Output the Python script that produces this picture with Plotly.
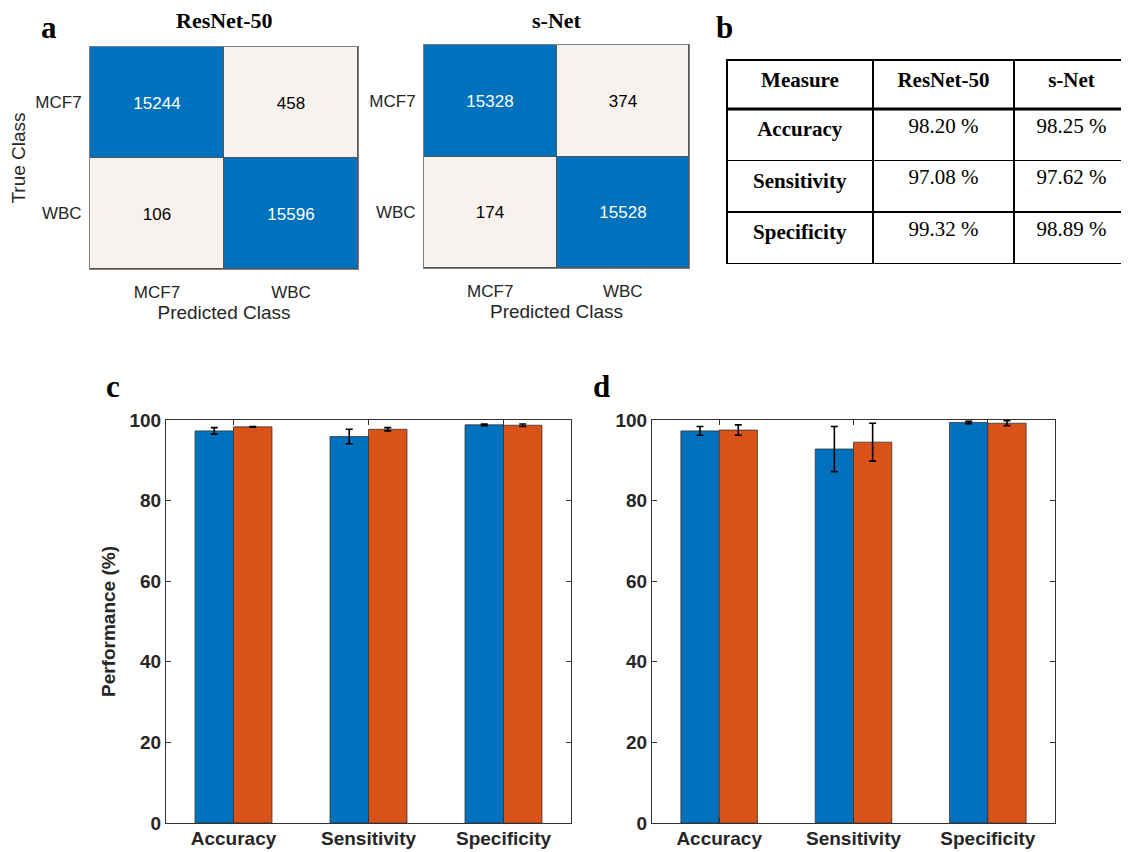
import plotly.graph_objects as go

# ---------------- data ----------------
classes = ["MCF7", "WBC"]
cm_resnet = [[15244, 458], [106, 15596]]
cm_snet = [[15328, 374], [174, 15528]]

measures = ["Accuracy", "Sensitivity", "Specificity"]
table_resnet = [98.20, 97.08, 99.32]
table_snet = [98.25, 97.62, 98.89]

c_resnet = [97.3, 95.9, 98.8]
c_resnet_err = [0.8, 1.8, 0.2]
c_snet = [98.3, 97.7, 98.7]
c_snet_err = [0.1, 0.4, 0.3]

d_resnet = [97.3, 92.8, 99.4]
d_resnet_err = [1.1, 5.6, 0.3]
d_snet = [97.5, 94.5, 99.2]
d_snet_err = [1.3, 4.7, 0.6]

yticks = [0, 20, 40, 60, 80, 100]

# ---------------- style ----------------
OFF = 8  # page body margin
W, H = 1129 - OFF, 852 - OFF
BLUE = "#0072BD"
ORANGE = "#D95319"
LIGHT = "#F8F2EE"
SANS = "Liberation Sans, Arial, sans-serif"
SERIF = "Liberation Serif, Times New Roman, serif"


def fx(p):
    return (p - OFF) / W


def fy(p):
    return 1 - (p - OFF) / H


def px_x(a, b):
    return [fx(a), fx(b)]


def px_y(top, bottom):
    return [fy(bottom), fy(top)]


fig = go.Figure()

cscale = [[0, LIGHT], [0.1, LIGHT], [0.9, BLUE], [1, BLUE]]

for i, cm in enumerate([cm_resnet, cm_snet]):
    ax = "" if i == 0 else "2"
    diag = [[v if r == c else None for c, v in enumerate(row)] for r, row in enumerate(cm)]
    offd = [[v if r != c else None for c, v in enumerate(row)] for r, row in enumerate(cm)]
    for zz, tcol in [(diag, "white"), (offd, "black")]:
        fig.add_trace(go.Heatmap(
            z=zz, x=classes, y=classes,
            zmin=0, zmax=16000, colorscale=cscale, showscale=False,
            xgap=1, ygap=1,
            texttemplate="%{z:.0f}", textfont=dict(family=SANS, size=17, color=tcol),
            hoverinfo="skip",
            xaxis="x" + ax, yaxis="y" + ax,
        ))

# bars
for j, (rv, re, sv, se) in enumerate([(c_resnet, c_resnet_err, c_snet, c_snet_err),
                                      (d_resnet, d_resnet_err, d_snet, d_snet_err)]):
    ax = str(3 + j)
    for vals, errs, col in [(rv, re, BLUE), (sv, se, ORANGE)]:
        fig.add_trace(go.Bar(
            x=measures, y=vals,
            marker=dict(color=col, line=dict(color="#333333", width=0.8)),
            error_y=dict(type="data", array=errs, color="black", thickness=1.6, width=3.5),
            showlegend=False, hoverinfo="skip",
            xaxis="x" + ax, yaxis="y" + ax,
        ))

# table
cell_vals = [
    ["<b>" + m + "</b>" for m in measures],
    [f"{v:.2f} %" for v in table_resnet],
    [f"{v:.2f} %" for v in table_snet],
]
fig.add_trace(go.Table(
    domain=dict(x=[fx(727), 1.0], y=px_y(60, 270)),
    columnwidth=[146, 141, 115],
    header=dict(
        values=["<b>Measure</b>", "<b>ResNet-50</b>", "<b>s-Net</b>"],
        height=49, align="center", fill_color="white",
        line=dict(color="black", width=1.5),
        font=dict(family=SERIF, size=21, color="black"),
    ),
    cells=dict(
        values=cell_vals, height=51.5, align="center", fill_color="white",
        line=dict(color="black", width=1.5),
        font=dict(family=SERIF, size=21, color="black"),
    ),
))

hm_axis_common = dict(showline=True, mirror=True, linecolor="#7f7f7f", linewidth=1,
                      ticks="", showgrid=False, zeroline=False, automargin=False,
                      tickfont=dict(family=SANS, size=17, color="#262626"))

layout = dict(
    width=W, height=H,
    margin=dict(l=0, r=0, t=0, b=0, autoexpand=False),
    paper_bgcolor="white", plot_bgcolor="white",
    barmode="group", bargap=0.43, bargroupgap=0,
    xaxis=dict(domain=px_x(90, 358), anchor="y", ticklabelstandoff=8,
               title=dict(text="Predicted Class", font=dict(family=SANS, size=19, color="#262626"), standoff=4),
               **hm_axis_common),
    yaxis=dict(domain=px_y(47, 269), anchor="x", autorange="reversed", ticklabelstandoff=4,
               title=dict(text="True Class", font=dict(family=SANS, size=19, color="#262626"), standoff=4),
               **hm_axis_common),
    xaxis2=dict(domain=px_x(424, 689), anchor="y2", ticklabelstandoff=8,
                title=dict(text="Predicted Class", font=dict(family=SANS, size=19, color="#262626"), standoff=4),
                **hm_axis_common),
    yaxis2=dict(domain=px_y(45, 268), anchor="x2", autorange="reversed", ticklabelstandoff=4,
                **hm_axis_common),
)

bar_x_common = dict(showline=True, mirror="ticks", linecolor="#333333", linewidth=1.2,
                    ticks="inside", ticklen=5, tickcolor="#333333", showgrid=False,
                    range=[-0.5, 2.5], automargin=False, ticklabelstandoff=-2,
                    tickfont=dict(family=SANS, size=19, color="#262626", weight="bold"))
bar_y_common = dict(showline=True, mirror="ticks", linecolor="#333333", linewidth=1.2,
                    ticks="inside", ticklen=5, tickcolor="#333333", showgrid=False, zeroline=False,
                    range=[0, 100], tickvals=yticks, automargin=False,
                    tickfont=dict(family=SANS, size=19, color="#262626", weight="bold"))

layout["xaxis3"] = dict(domain=px_x(166, 571), anchor="y3", **bar_x_common)
layout["yaxis3"] = dict(domain=px_y(420, 823), anchor="x3",
                        title=dict(text="Performance (%)", standoff=8,
                                   font=dict(family=SANS, size=19, color="#262626", weight="bold")),
                        **bar_y_common)
layout["xaxis4"] = dict(domain=px_x(652, 1055), anchor="y4", **bar_x_common)
layout["yaxis4"] = dict(domain=px_y(420, 823), anchor="x4", **bar_y_common)

fig.update_layout(**layout)

# heatmap gap colour: draw dark rect behind heatmaps
for xa, ya in [("x", "y"), ("x2", "y2")]:
    fig.add_shape(type="rect", xref=xa + " domain", yref=ya + " domain",
                  x0=0, x1=1, y0=0, y1=1, fillcolor="#555555", line=dict(width=0),
                  layer="below")

# subplot titles
for txt, xa in [("ResNet-50", (90 + 358) / 2), ("s-Net", (424 + 689) / 2)]:
    fig.add_annotation(text="<b>" + txt + "</b>", x=fx(xa), y=fy(20), xref="paper", yref="paper",
                       showarrow=False, font=dict(family=SERIF, size=22, color="black"),
                       xanchor="center", yanchor="middle")

# thick line under header
fig.add_shape(type="line", xref="paper", yref="paper", x0=fx(727), x1=1.0,
              y0=fy(109), y1=fy(109), line=dict(color="black", width=3))

# panel letters
for letter, xp, ytop in [("a", 49, 8.5), ("b", 724, 8.5), ("c", 113, 368), ("d", 601, 368)]:
    fig.add_annotation(text="<b>" + letter + "</b>", x=fx(xp), y=fy(ytop), xref="paper", yref="paper",
                       showarrow=False, font=dict(family=SERIF, size=31, color="black"),
                       xanchor="center", yanchor="top", borderpad=0)

fig.write_html("out.html")
